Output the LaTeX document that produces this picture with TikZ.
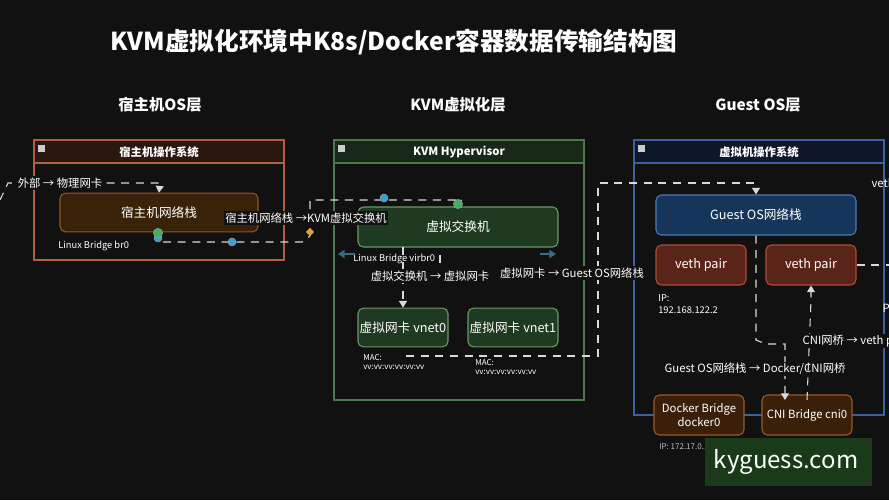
\documentclass[tikz,border=0pt]{standalone}
\usepackage{fontspec}
\setmainfont{Noto Sans CJK SC}
\usetikzlibrary{arrows.meta,shapes.geometric}
\definecolor{bg}{HTML}{111111}
\definecolor{hhead}{HTML}{2A1810}
\definecolor{hbord}{HTML}{B0603F}
\definecolor{khead}{HTML}{182818}
\definecolor{kbord}{HTML}{4A7A4A}
\definecolor{ghead}{HTML}{0F1828}
\definecolor{gbord}{HTML}{3F5F9F}
\definecolor{hnsf}{HTML}{3A2208}
\definecolor{hnsd}{HTML}{8A5A28}
\definecolor{grf}{HTML}{1F3A20}
\definecolor{grd}{HTML}{6A9A6A}
\definecolor{blf}{HTML}{15365A}
\definecolor{bld}{HTML}{4A7AB0}
\definecolor{rdf}{HTML}{5A2418}
\definecolor{rdd}{HTML}{B04A3A}
\definecolor{brf}{HTML}{3A2008}
\definecolor{brd}{HTML}{9A5A28}
\definecolor{dotb}{HTML}{3AA0D0}
\definecolor{dotg}{HTML}{40B060}
\definecolor{dia}{HTML}{E0A040}
\definecolor{farr}{HTML}{3A6A8A}
\definecolor{wmf}{HTML}{1A3A1A}
\tikzset{
  bx/.style={rounded corners=4pt,line width=0.8pt,text=white,font=\fontsize{9.5}{11}\selectfont,inner sep=0pt},
  lbl/.style={text=white,font=\fontsize{8.5}{10}\selectfont,inner sep=1pt},
  small/.style={text=white,font=\fontsize{6}{7}\selectfont,inner sep=0pt,align=left,anchor=north west},
  dl/.style={draw=white!85!black,dash pattern=on 6pt off 5pt,line width=0.8pt},
  arr/.style={-{Triangle[width=6pt,length=5pt]}},
  dot/.style={circle,fill=#1,draw=white!60!black,inner sep=0pt,minimum size=6pt},
}
\begin{document}
\begin{tikzpicture}[x=0.75pt,y=-0.75pt]
\fill[bg] (0,0) rectangle (889,500);
\useasboundingbox (0,0) rectangle (889,500);
\node[text=white,font=\bfseries\fontsize{18.5}{20}\selectfont,anchor=west] (title) at (106,42) {KVM虚拟化环境中K8s/Docker容器数据传输结构图};
\node[text=white,font=\bfseries\fontsize{11.5}{12}\selectfont] (h1) at (160,105) {宿主机OS层};
\node[text=white,font=\bfseries\fontsize{11.5}{12}\selectfont] (h2) at (458,105) {KVM虚拟化层};
\node[text=white,font=\bfseries\fontsize{11.5}{12}\selectfont] (h3) at (758,105) {Guest OS层};
% panels
\fill[hhead] (34,140) rectangle (284,163);
\draw[hbord,line width=0.8pt] (34,140) rectangle (284,260) (34,163) -- (284,163);
\node[lbl,font=\bfseries\fontsize{8.5}{9}\selectfont] (p1) at (159,152) {宿主机操作系统};
\fill[khead] (334,140) rectangle (584,163);
\draw[kbord,line width=0.8pt] (334,140) rectangle (584,400) (334,163) -- (584,163);
\node[lbl,font=\bfseries\fontsize{8.5}{9}\selectfont] (p2) at (459,152) {KVM Hypervisor};
\fill[ghead] (634,140) rectangle (884,163);
\draw[gbord,line width=0.8pt] (634,140) rectangle (884,415) (634,163) -- (884,163);
\node[lbl,font=\bfseries\fontsize{8.5}{9}\selectfont] (p3) at (759,152) {虚拟机操作系统};
\foreach \x in {37,337,637} \fill[white!80!black] (\x+1,145) rectangle (\x+8,152);
% boxes
\node[bx,fill=hnsf,draw=hnsd,minimum width=148.5pt,minimum height=29pt] (hns) at (159,212.5) {宿主机网络栈};
\node[bx,fill=grf,draw=grd,minimum width=150pt,minimum height=30pt] (sw) at (458,227) {虚拟交换机};
\node[bx,fill=grf,draw=grd,minimum width=67.5pt,minimum height=29pt] (v0) at (403,327.5) {虚拟网卡 vnet0};
\node[bx,fill=grf,draw=grd,minimum width=67.5pt,minimum height=29pt] (v1) at (513,327.5) {虚拟网卡 vnet1};
\node[bx,fill=blf,draw=bld,minimum width=150pt,minimum height=30pt] (gns) at (756,215) {Guest OS网络栈};
\node[bx,fill=rdf,draw=rdd,minimum width=67.5pt,minimum height=30pt] (vp1) at (701,265) {veth pair};
\node[bx,fill=rdf,draw=rdd,minimum width=67.5pt,minimum height=30pt] (vp2) at (811,265) {veth pair};
\node[bx,fill=brf,draw=brd,minimum width=67.5pt,minimum height=30pt,align=center,font=\fontsize{8.5}{10}\selectfont] (db) at (699,415) {Docker Bridge\\docker0};
\node[bx,fill=brf,draw=brd,minimum width=67.5pt,minimum height=30pt,font=\fontsize{8.5}{10}\selectfont] (cni) at (807,415) {CNI Bridge cni0};
% small texts
\node[small,anchor=west,font=\fontsize{7}{8}\selectfont] (br0) at (58,246) {Linux Bridge br0};
\node[small,anchor=west,font=\fontsize{7}{8}\selectfont] (vbr) at (353,259) {Linux Bridge virbr0};
\node[small] (m0) at (363,354) {MAC:\\vv:vv:vv:vv:vv:vv};
\node[small] (m1) at (475,359) {MAC:\\vv:vv:vv:vv:vv:vv};
\node[small,font=\fontsize{7}{9}\selectfont] (ip1) at (658,294) {IP:\\192.168.122.2};
\node[small,text=white!75!black] (ip2) at (659,443) {IP: 172.17.0.1};
\node[small,text=white!55!black] (ip3) at (768,443) {IP: 10.244.0.1};
\node[lbl,anchor=west] (r1) at (870,183) {veth};
\node[lbl,anchor=west] (r2) at (881,308) {P};
% connectors
\coordinate (e0) at (0,200);
\coordinate (e1) at (8,183);
\draw[dl,arr] (e0) -- (e1) -- (160,183) -- (hns.north);
\node[lbl,fill=bg] (l1) at (60,183) {外部 → 物理网卡};
\draw[dl,arr] (hns.south) -- (158,242) -- (302,242) -- (310,236) -- (310,200) -- (458,200) -- (sw.north);
\node[lbl,fill=bg] (l2) at (306,218) {宿主机网络栈 →KVM虚拟交换机};
\node[dot=dotb] (d1) at (158,238) {};
\node[dot=dotg,minimum size=7pt] (d2) at (158,233) {};
\node[dot=dotb] (d3) at (232,242) {};
\node[dot=dotb] (d4) at (384,198) {};
\node[dot=dotg,minimum size=7pt] (d5) at (458,204) {};
\node[diamond,fill=dia,inner sep=1.6pt] (d6) at (310,232) {};
\draw[dl,arr] (403,247) -- (403,277) -- (v0.north);
\node[lbl,fill=bg] (l3) at (430,276) {虚拟交换机 → 虚拟网卡};
\draw[dl] (440,255) -- (440,266);
\draw[dl,arr] (406,356) -- (598,356) -- (598,183) -- (756,183) -- (gns.north);
\node[lbl,fill=bg] (l4) at (572,273) {虚拟网卡 → Guest OS网络栈};
\draw[dl,arr] (gns.south) -- (756,340) -- (766,344) -- (785,344) -- (785,400);
\node[lbl,fill=bg] (l5) at (755,369) {Guest OS网络栈 → Docker/CNI网桥};
\draw[dl,arr] (807,400) -- (811,300) -- (vp2.south);
\node[lbl,fill=bg,anchor=west] (l6) at (801,341) {CNI网桥 → veth pair};
\draw[dl] (vp2.east) -- (889,265);
\draw[farr,line width=2pt,-{Triangle[width=6pt,length=5pt]}] (355,254) -- (338,254);
\draw[farr,line width=2pt,-{Triangle[width=6pt,length=5pt]}] (540,254) -- (556,254);
\fill[wmf] (705,438) rectangle (872,486);
\node[text=white,font=\fontsize{18}{20}\selectfont] (wm) at (786,462) {kyguess.com};
\end{tikzpicture}
\end{document}
